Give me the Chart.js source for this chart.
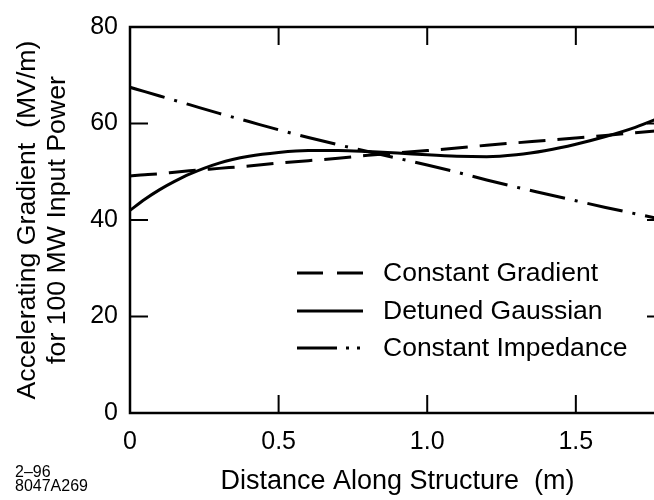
<!DOCTYPE html>
<html>
<head>
<meta charset="utf-8">
<script src="https://cdn.jsdelivr.net/npm/chart.js@4.4.1/dist/chart.umd.min.js"></script>
<style>
  html, body { margin: 0; padding: 0; background: #fff; overflow: hidden; }
  #wrap { width: 680px; height: 500px; }
</style>
</head>
<body>
<div id="wrap"><canvas id="chart" width="680" height="500"></canvas></div>
<script>
const FONT = "'Liberation Sans', Arial, Helvetica, sans-serif";

// values
const distance = [0, 0.05, 0.1, 0.15, 0.2, 0.3, 0.4, 0.5, 0.6, 0.7, 0.8, 0.9, 1.0, 1.1, 1.2, 1.3, 1.4, 1.5, 1.6, 1.7, 1.8];
const constGradient = [49.1, 49.4, 49.6, 49.9, 50.2, 50.7, 51.2, 51.8, 52.3, 52.8, 53.4, 53.9, 54.4, 54.9, 55.5, 56.0, 56.5, 57.0, 57.5, 58.1, 58.6];
const detunedGaussian = [42.0, 44.3, 46.3, 48.0, 49.5, 51.8, 53.2, 54.0, 54.4, 54.4, 54.2, 53.9, 53.5, 53.2, 53.1, 53.5, 54.4, 55.7, 57.3, 59.2, 61.6];
const constImpedance = [67.5, 66.6, 65.7, 64.8, 63.9, 62.1, 60.4, 58.7, 57.1, 55.6, 54.2, 52.8, 51.4, 49.9, 48.3, 46.8, 45.4, 44.0, 42.6, 41.3, 40.0];

const seriesNames = ['Constant Gradient', 'Detuned Gaussian', 'Constant Impedance'];
const xTicks = [0, 0.5, 1.0, 1.5];
const yTicks = [0, 20, 40, 60, 80];

function toPoints(ys) {
  return distance.map((x, i) => ({ x: x, y: ys[i] }));
}

function lineSet(label, ys, dash) {
  return {
    label: label,
    data: toPoints(ys),
    borderColor: '#000',
    borderWidth: 3,
    borderDash: dash,
    pointRadius: 0,
    fill: false,
    cubicInterpolationMode: 'monotone'
  };
}

// frame, inward ticks, legend and the figure code in the corner
const decorations = {
  id: 'decorations',
  afterDraw(chart) {
    const ctx = chart.ctx;
    const a = chart.chartArea;
    const xs = chart.scales.x;
    const ys = chart.scales.y;
    const tick = 18;
    ctx.save();
    ctx.strokeStyle = '#000';
    ctx.lineWidth = 2.5;
    ctx.setLineDash([]);
    ctx.strokeRect(a.left, a.top, a.right - a.left, a.bottom - a.top);

    ctx.lineWidth = 2;
    ctx.beginPath();
    xTicks.forEach(v => {
      const px = xs.getPixelForValue(v);
      ctx.moveTo(px, a.bottom); ctx.lineTo(px, a.bottom - tick);
      ctx.moveTo(px, a.top); ctx.lineTo(px, a.top + tick);
    });
    yTicks.forEach(v => {
      const py = ys.getPixelForValue(v);
      ctx.moveTo(a.left, py); ctx.lineTo(a.left + tick, py);
      ctx.moveTo(a.right, py); ctx.lineTo(a.right - tick, py);
    });
    ctx.stroke();

    // legend
    const legendDash = [[26, 14], [], [40, 9, 3, 8, 3, 200]];
    const rowY = [273, 311, 348];
    ctx.lineWidth = 3;
    ctx.font = '26.5px ' + FONT;
    ctx.fillStyle = '#000';
    ctx.textBaseline = 'middle';
    ctx.textAlign = 'left';
    seriesNames.forEach((name, i) => {
      ctx.setLineDash(legendDash[i]);
      ctx.beginPath();
      ctx.moveTo(297, rowY[i]);
      ctx.lineTo(363, rowY[i]);
      ctx.stroke();
      ctx.fillText(name, 383, rowY[i] + 1);
    });
    ctx.setLineDash([]);

    ctx.font = '16px ' + FONT;
    ctx.textBaseline = 'alphabetic';
    ctx.fillText('2\u201396', 15, 477);
    ctx.fillText('8047A269', 15, 491);
    ctx.restore();
  }
};

new Chart(document.getElementById('chart').getContext('2d'), {
  type: 'line',
  data: {
    datasets: [
      lineSet(seriesNames[0], constGradient, [27, 12]),
      lineSet(seriesNames[1], detunedGaussian, []),
      lineSet(seriesNames[2], constImpedance, [36, 10, 3, 10])
    ]
  },
  options: {
    responsive: false,
    animation: false,
    layout: { padding: { top: 13, right: 15, left: 0, bottom: 0 } },
    plugins: { legend: { display: false }, tooltip: { enabled: false } },
    scales: {
      x: {
        type: 'linear',
        min: 0,
        max: 1.8,
        afterBuildTicks: s => { s.ticks = xTicks.map(v => ({ value: v })); },
        afterFit: s => { s.height = 87; },
        grid: { display: false, drawTicks: false },
        border: { display: false },
        ticks: {
          color: '#000',
          padding: 14,
          font: { family: FONT, size: 25 },
          callback: v => v === 0 ? '0' : v.toFixed(1)
        },
        title: {
          display: true,
          text: 'Distance Along Structure  (m)',
          color: '#000',
          font: { family: FONT, size: 27 },
          padding: { top: 0, bottom: 2 }
        }
      },
      y: {
        min: 0,
        max: 80,
        afterBuildTicks: s => { s.ticks = yTicks.map(v => ({ value: v })); },
        afterFit: s => { s.width = 130; },
        grid: { display: false, drawTicks: false },
        border: { display: false },
        ticks: {
          color: '#000',
          padding: 12,
          font: { family: FONT, size: 25 }
        },
        title: {
          display: true,
          text: ['Accelerating Gradient  (MV/m)', 'for 100 MW Input Power'],
          color: '#000',
          font: { family: FONT, size: 26.7, lineHeight: 1.12 },
          padding: { top: 13, bottom: 0 }
        }
      }
    }
  },
  plugins: [decorations]
});
</script>
</body>
</html>
